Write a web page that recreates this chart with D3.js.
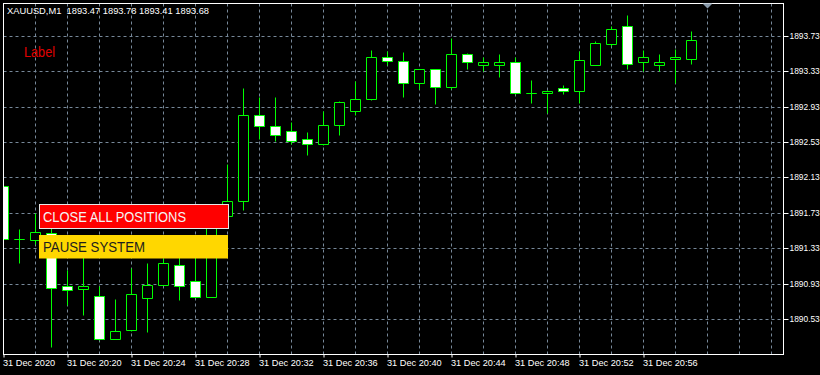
<!DOCTYPE html>
<html>
<head>
<meta charset="utf-8">
<script src="https://cdn.jsdelivr.net/npm/d3@7"></script>
<style>
  html, body { margin: 0; padding: 0; background: #000; }
  svg { display: block; }
  text { font-family: "Liberation Sans", Arial, sans-serif; }
</style>
</head>
<body>
<div id="chart"></div>
<script>
// XAUUSD M1, 31 Dec 2020 20:16 .. 20:59
const symbolTitle = 'XAUUSD,M1';
const lastBar = ['1893.47', '1893.78', '1893.41', '1893.68'];

const opens  = [1892.03, 1891.43, 1891.42, 1891.50, 1890.90, 1890.87, 1890.79, 1890.31, 1890.41, 1890.77,
                1890.92, 1891.14, 1890.96, 1890.78, 1891.70, 1891.86, 1892.84, 1892.71, 1892.66, 1892.56,
                1892.51, 1892.72, 1892.88, 1893.02, 1893.49, 1893.45, 1893.20, 1893.35, 1893.15, 1893.52,
                1893.40, 1893.40, 1893.43, 1893.08, 1893.08, 1893.14, 1893.11, 1893.40, 1893.64, 1893.84,
                1893.43, 1893.40, 1893.47, 1893.47];
const highs  = [1892.06, 1891.55, 1891.73, 1891.62, 1891.08, 1891.30, 1890.90, 1890.76, 1891.11, 1891.16,
                1891.22, 1891.25, 1891.25, 1891.72, 1892.28, 1893.14, 1893.04, 1893.04, 1892.76, 1892.64,
                1892.88, 1892.99, 1893.22, 1893.57, 1893.56, 1893.55, 1893.36, 1893.36, 1893.70, 1893.54,
                1893.49, 1893.52, 1893.49, 1893.23, 1893.12, 1893.18, 1893.56, 1893.67, 1893.84, 1893.96,
                1893.57, 1893.52, 1893.58, 1893.78];
const lows   = [1891.40, 1891.16, 1891.38, 1890.22, 1890.69, 1890.58, 1890.30, 1890.31, 1890.40, 1890.39,
                1890.92, 1890.75, 1890.78, 1890.78, 1891.68, 1891.76, 1892.56, 1892.54, 1892.51, 1892.38,
                1892.50, 1892.61, 1892.84, 1893.01, 1893.40, 1893.04, 1893.13, 1892.96, 1893.13, 1893.36,
                1893.33, 1893.26, 1893.07, 1892.97, 1892.86, 1893.07, 1892.97, 1893.40, 1893.61, 1893.36,
                1893.33, 1893.33, 1893.20, 1893.41];
const closes = [1891.43, 1891.43, 1891.52, 1890.88, 1890.86, 1890.90, 1890.31, 1890.40, 1890.81, 1890.92,
                1891.16, 1890.91, 1890.78, 1891.70, 1891.86, 1892.84, 1892.71, 1892.61, 1892.54, 1892.51,
                1892.72, 1892.98, 1893.02, 1893.49, 1893.45, 1893.20, 1893.35, 1893.15, 1893.53, 1893.43,
                1893.43, 1893.43, 1893.08, 1893.08, 1893.11, 1893.11, 1893.46, 1893.65, 1893.81, 1893.41,
                1893.49, 1893.43, 1893.49, 1893.68];

const priceTicks = [1890.53, 1890.93, 1891.33, 1891.73, 1892.13, 1892.53, 1892.93, 1893.33, 1893.73];
const timeTicks = ['31 Dec 2020', '31 Dec 20:20', '31 Dec 20:24', '31 Dec 20:28', '31 Dec 20:32', '31 Dec 20:36',
                   '31 Dec 20:40', '31 Dec 20:44', '31 Dec 20:48', '31 Dec 20:52', '31 Dec 20:56'];
const barsPerLabel = 4;

const width = 820, height = 375;
const plot = { left: 3.5, top: 3.5, right: 783.5, bottom: 354.5 };

const svg = d3.select('#chart').append('svg')
  .attr('width', width)
  .attr('height', height);

svg.append('rect').attr('width', width).attr('height', height).attr('fill', '#000');

// scales: one bar every 16px, price 0.40 per grid step
const x = d3.scaleLinear().domain([0, 48]).range([3.5, 771.5]);
const y = d3.scaleLinear().domain([1890.53, 1893.73]).range([319.7, 36.3]);
const py = v => Math.round(y(v) - 0.5) + 0.5;

svg.append('clipPath').attr('id', 'plotClip')
  .append('rect')
  .attr('x', plot.left).attr('y', plot.top)
  .attr('width', plot.right - plot.left).attr('height', plot.bottom - plot.top);

// grid
const grid = svg.append('g').attr('stroke', '#778899').attr('stroke-dasharray', '3,3');
grid.selectAll('line.h').data(priceTicks).join('line')
  .attr('x1', plot.left).attr('x2', plot.right)
  .attr('y1', d => py(d)).attr('y2', d => py(d));
grid.selectAll('line.v').data(d3.range(2, 49, 2)).join('line')
  .attr('x1', d => x(d)).attr('x2', d => x(d))
  .attr('y1', plot.top).attr('y2', plot.bottom);

// candles
const bars = opens.map((o, i) => ({ i, o, h: highs[i], l: lows[i], c: closes[i] }));
const candles = svg.append('g').attr('clip-path', 'url(#plotClip)');

candles.selectAll('line.wick').data(bars).join('line')
  .attr('class', 'wick')
  .attr('x1', d => x(d.i)).attr('x2', d => x(d.i))
  .attr('y1', d => py(d.h)).attr('y2', d => py(d.l))
  .attr('stroke', '#00ff00');

candles.selectAll('path.body').data(bars).join('path')
  .attr('class', 'body')
  .attr('d', d => {
    const x0 = x(d.i) - 5, x1 = x(d.i) + 5;
    const y0 = py(Math.max(d.o, d.c)), y1 = py(Math.min(d.o, d.c));
    return `M${x0},${y0}H${x1}V${y1}H${x0}Z`;
  })
  .attr('fill', d => d.c < d.o ? '#ffffff' : '#000000')
  .attr('stroke', '#00ff00');

// frame
svg.append('rect')
  .attr('x', plot.left).attr('y', plot.top)
  .attr('width', plot.right - plot.left).attr('height', plot.bottom - plot.top)
  .attr('fill', 'none').attr('stroke', '#ffffff');

// shift marker
svg.append('path')
  .attr('d', `M${x(44) - 5},${plot.top}L${x(44) + 5},${plot.top}L${x(44)},${plot.top + 5}Z`)
  .attr('fill', '#8899aa');

// price axis
const yAxis = svg.append('g')
  .attr('transform', `translate(${plot.right},0)`)
  .call(d3.axisRight(y).tickValues(priceTicks).tickSize(5).tickPadding(1).tickFormat(d3.format('.2f')));
yAxis.select('.domain').remove();
yAxis.selectAll('.tick').attr('transform', d => `translate(0,${py(d)})`);
yAxis.selectAll('.tick line').attr('stroke', '#ffffff');
yAxis.selectAll('.tick text').attr('fill', '#ffffff')
  .style('font-size', '8.4px').style('font-family', '"Liberation Sans", Arial, sans-serif');

// time axis
const xAxis = svg.append('g')
  .attr('transform', `translate(0,${plot.bottom})`)
  .call(d3.axisBottom(x).tickValues(timeTicks.map((_, k) => k * barsPerLabel))
    .tickSize(3).tickFormat((d, k) => timeTicks[k]));
xAxis.select('.domain').remove();
xAxis.selectAll('.tick line').attr('stroke', '#ffffff');
xAxis.selectAll('.tick text')
  .attr('fill', '#ffffff').attr('text-anchor', 'start')
  .attr('x', -1).attr('y', 11.5).attr('dy', null)
  .style('font-size', '9.2px').style('font-family', '"Liberation Sans", Arial, sans-serif');

// header
svg.append('text')
  .attr('x', 7).attr('y', 14)
  .attr('fill', '#ffffff').style('font-size', '9px').style('white-space', 'pre')
  .attr('textLength', 202).attr('lengthAdjust', 'spacingAndGlyphs')
  .text(symbolTitle + '  ' + lastBar.join(' '));

svg.append('text')
  .attr('x', 24).attr('y', 57)
  .attr('fill', '#e00000').style('font-size', '14px')
  .attr('textLength', 31).attr('lengthAdjust', 'spacingAndGlyphs')
  .text('Label');

// buttons
svg.append('rect')
  .attr('x', 39.5).attr('y', 204.5).attr('width', 189).attr('height', 24)
  .attr('fill', '#ff0000').attr('stroke', '#e8e8e8');
svg.append('text')
  .attr('x', 43).attr('y', 222.3)
  .attr('fill', '#f4f4f4').style('font-size', '14.5px')
  .attr('textLength', 143).attr('lengthAdjust', 'spacingAndGlyphs')
  .text('CLOSE ALL POSITIONS');

svg.append('rect')
  .attr('x', 39).attr('y', 235).attr('width', 189).attr('height', 23.5)
  .attr('fill', '#ffd700');
svg.append('text')
  .attr('x', 43).attr('y', 251.7)
  .attr('fill', '#1e1e1e').style('font-size', '14.5px')
  .attr('textLength', 102).attr('lengthAdjust', 'spacingAndGlyphs')
  .text('PAUSE SYSTEM');
</script>
</body>
</html>
